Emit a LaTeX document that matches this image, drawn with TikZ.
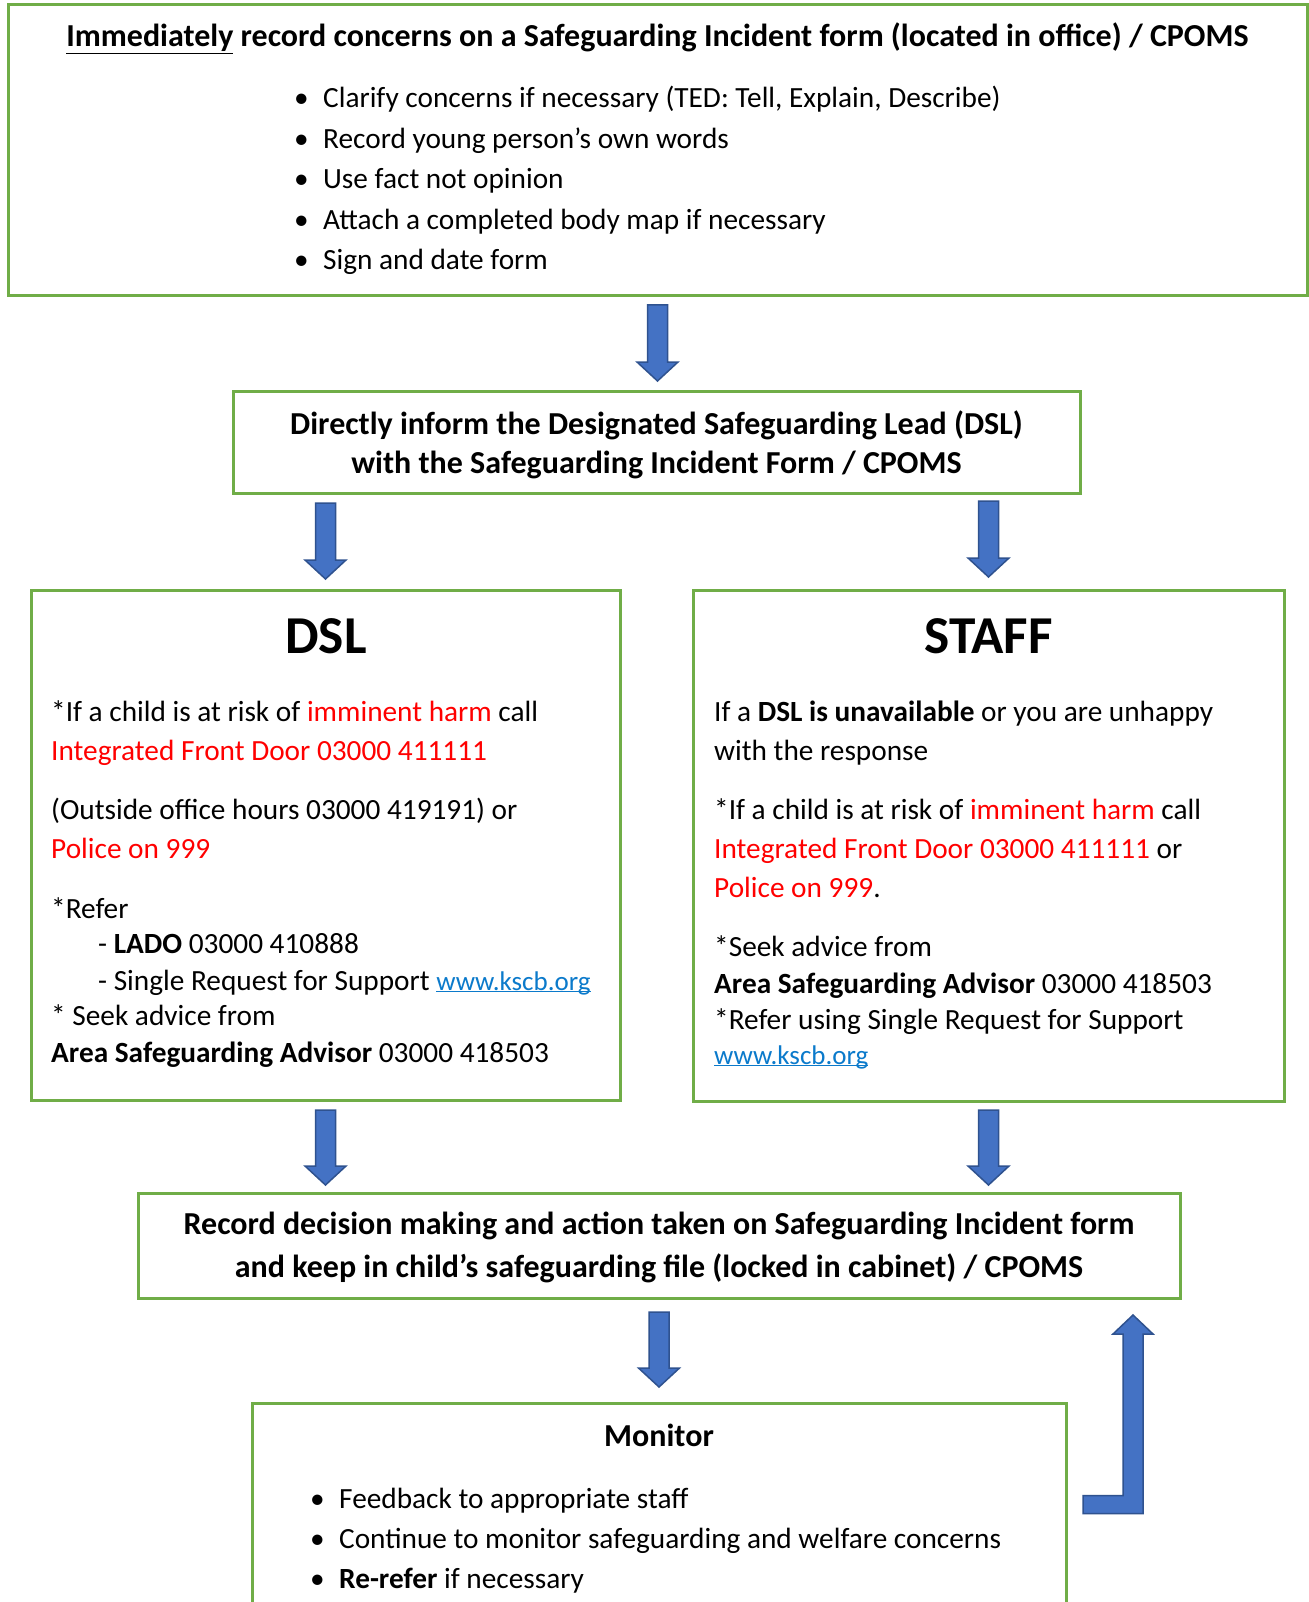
\documentclass[tikz,border=0pt]{standalone}
\usepackage{fontspec}
\setmainfont{Carlito}
\usepackage{xcolor}
\usetikzlibrary{calc}

\definecolor{boxgreen}{HTML}{70AD47}
\definecolor{arrowfill}{HTML}{4472C4}
\definecolor{arrowedge}{HTML}{2F528F}
\definecolor{harmred}{HTML}{FF0000}
\definecolor{linkblue}{HTML}{0B7ACB}

\newcommand{\bodysize}{\fontsize{29.3}{35}\selectfont}
\newcommand{\headsize}{\fontsize{32}{39}\selectfont}
\newcommand{\bigsize}{\fontsize{53.3}{60}\selectfont}
\newcommand{\red}[1]{{\color{harmred}#1}}
\newcommand{\weblink}[1]{{\color{linkblue}\fontsize{27}{33}\selectfont\underline{\smash{#1}}}}
\newcommand{\bulletitem}[1]{\makebox[29pt][l]{\textbullet}#1}

\begin{document}
\begin{tikzpicture}[x=1pt, y=-1pt,
    greenbox/.style={draw=boxgreen, line width=3pt, anchor=north west, inner sep=0pt, outer sep=0pt},
    textline/.style={anchor=base west, inner sep=0pt, font=\bodysize},
    headline/.style={anchor=base, inner sep=0pt, font=\headsize\bfseries},
    blockarrow/.style={fill=arrowfill, draw=arrowedge, line width=1.5pt,
      to path={let \p1=(\tikztostart), \p2=(\tikztotarget) in
        (\x1-10pt,\y1) -- (\x1+10pt,\y1) -- (\x1+10pt,\y2+19pt) -- (\x1+20.5pt,\y2+19pt)
        -- (\x1,\y2) -- (\x1-20.5pt,\y2+19pt) -- (\x1-10pt,\y2+19pt) -- cycle}},
    returnarrow/.style={fill=arrowfill, draw=arrowedge, line width=1.5pt,
      to path={let \p1=(\tikztostart), \p2=(\tikztotarget) in
        (\x1,\y1+9pt) -- (\x2-10pt,\y1+9pt) -- (\x2-10pt,\y2-19pt) -- (\x2-20pt,\y2-19pt)
        -- (\x2,\y2) -- (\x2+20pt,\y2-19pt) -- (\x2+10pt,\y2-19pt) -- (\x2+10pt,\y1-9pt)
        -- (\x1,\y1-9pt) -- cycle}}]

  \path[use as bounding box, fill=white] (0,0) rectangle (1308,1602);

  % boxes
  \node[greenbox, minimum width=1299pt, minimum height=291pt] (record1) at (8,5) {};
  \node[greenbox, minimum width=847pt, minimum height=102pt] (inform) at (233,391) {};
  \node[greenbox, minimum width=589pt, minimum height=510pt] (dsl) at (31,590) {};
  \node[greenbox, minimum width=591pt, minimum height=511pt] (staff) at (693,590) {};
  \node[greenbox, minimum width=1042pt, minimum height=105pt] (decision) at (138,1193) {};
  \node[greenbox, minimum width=814pt, minimum height=209pt] (monitor) at (252,1403) {};

  % first box
  \node[headline] (recordhead) at (657.5,47)
    {\underline{Immediately} record concerns on a Safeguarding Incident form (located in office) / CPOMS};
  \foreach \txt [count=\i] in {{Clarify concerns if necessary (TED: Tell, Explain, Describe)},
      {Record young person’s own words}, {Use fact not opinion},
      {Attach a completed body map if necessary}, {Sign and date form}}
    \node[textline] (recitem\i) at (294,{108+40.5*(\i-1)}) {\bulletitem{\txt}};

  % inform the DSL
  \node[headline] (inform1) at (656.5,434) {Directly inform the Designated Safeguarding Lead (DSL)};
  \node[headline] (inform2) at (656.5,473) {with the Safeguarding Incident Form / CPOMS};

  % DSL column
  \node[anchor=base, inner sep=0pt, font=\bigsize\bfseries] (dslhead) at (326,653) {DSL};
  \node[textline] (dsl1) at (51,721) {*If a child is at risk of \red{imminent harm} call};
  \node[textline] (dsl2) at (51,760) {\red{Integrated Front Door 03000 411111}};
  \node[textline] (dsl3) at (51,819) {(Outside office hours 03000 419191) or};
  \node[textline] (dsl4) at (51,858) {\red{Police on 999}};
  \node[textline] (dsl5) at (51,918) {*Refer};
  \node[textline] (dsl6) at (98,953) {- \textbf{LADO} 03000 410888};
  \node[textline] (dsl7) at (98,990) {- Single Request for Support \weblink{www.kscb.org}};
  \node[textline] (dsl8) at (51,1025) {* Seek advice from};
  \node[textline] (dsl9) at (51,1062) {\textbf{Area Safeguarding Advisor} 03000 418503};

  % STAFF column
  \node[anchor=base, inner sep=0pt, font=\bigsize\bfseries] (staffhead) at (988.5,653) {STAFF};
  \node[textline] (staff1) at (714,721) {If a \textbf{DSL is unavailable} or you are unhappy};
  \node[textline] (staff2) at (714,760) {with the response};
  \node[textline] (staff3) at (714,819) {*If a child is at risk of \red{imminent harm} call};
  \node[textline] (staff4) at (714,858) {\red{Integrated Front Door 03000 411111} or};
  \node[textline] (staff5) at (714,897) {\red{Police on 999}.};
  \node[textline] (staff6) at (714,956) {*Seek advice from};
  \node[textline] (staff7) at (714,993) {\textbf{Area Safeguarding Advisor} 03000 418503};
  \node[textline] (staff8) at (714,1029) {*Refer using Single Request for Support};
  \node[textline] (staff9) at (714,1064) {\weblink{www.kscb.org}};

  % record decision
  \node[headline] (decision1) at (659,1234) {Record decision making and action taken on Safeguarding Incident form};
  \node[headline] (decision2) at (659,1277) {and keep in child’s safeguarding file (locked in cabinet) / CPOMS};

  % monitor
  \node[headline] (monitorhead) at (659,1446) {Monitor};
  \foreach \txt [count=\i] in {{Feedback to appropriate staff},
      {Continue to monitor safeguarding and welfare concerns}, {\textbf{Re-refer} if necessary}}
    \node[textline] (monitem\i) at (310,{1508+40*(\i-1)}) {\bulletitem{\txt}};

  % arrows
  \draw[blockarrow] ($(record1.south)+(0,9)$) to ($(inform.north)+(0,-10)$);
  \draw[blockarrow] ($(inform.south -| dsl.north)+(0,10)$) to ($(dsl.north)+(0,-11)$);
  \draw[blockarrow] ($(inform.south -| staff.north)+(0,8)$) to ($(staff.north)+(0,-13)$);
  \draw[blockarrow] ($(dsl.south)+(0,10)$) to ($(decision.north -| dsl.south)+(0,-8)$);
  \draw[blockarrow] ($(staff.south)+(0,9)$) to ($(decision.north -| staff.south)+(0,-8)$);
  \draw[blockarrow] ($(decision.south)+(0,14)$) to ($(monitor.north)+(0,-16)$);
  \draw[returnarrow] ($(monitor.east)+(17,-3)$) to ($(decision.south east)+(-47,17)$);
\end{tikzpicture}
\end{document}
